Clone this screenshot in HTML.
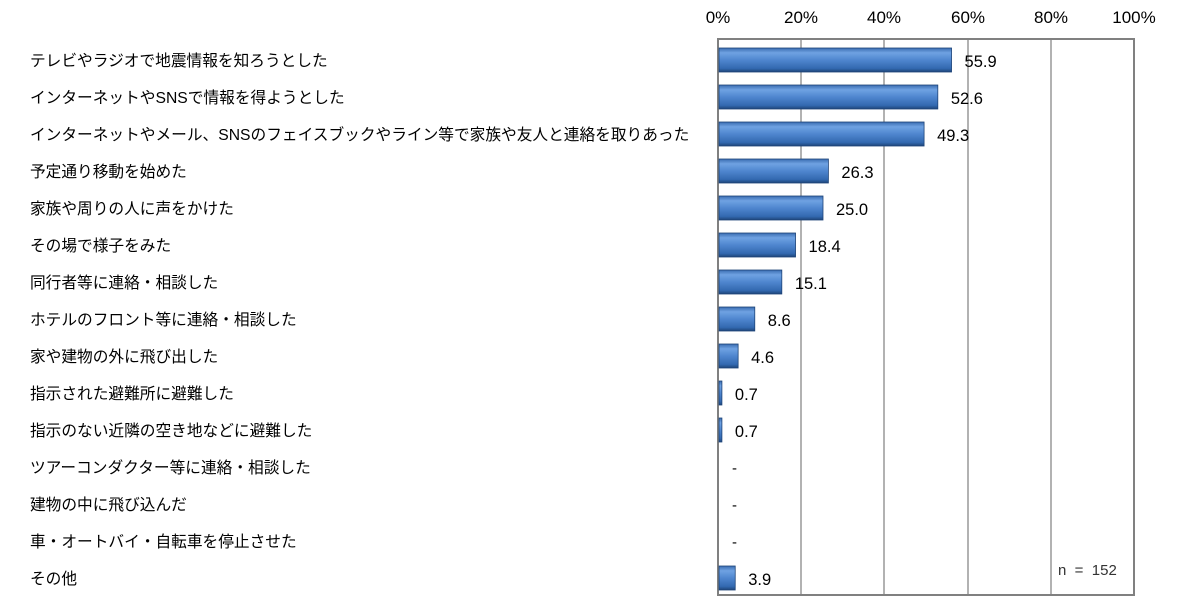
<!DOCTYPE html>
<html><head><meta charset="utf-8"><style>
body{margin:0;background:#fff;width:1200px;height:600px;overflow:hidden}
text{font-family:"Liberation Sans","Noto Sans CJK JP",sans-serif}
</style></head><body>
<svg width="1200" height="600" viewBox="0 0 1200 600" xmlns="http://www.w3.org/2000/svg">
<defs>
<linearGradient id="g" x1="0" y1="0" x2="0" y2="1">
<stop offset="0" stop-color="#3a6cb0"/>
<stop offset="0.2" stop-color="#6fa2e2"/>
<stop offset="0.5" stop-color="#4f86cf"/>
<stop offset="0.85" stop-color="#3369b0"/>
<stop offset="1" stop-color="#1e4478"/>
</linearGradient>
</defs>
<g font-size="17" fill="#000" text-anchor="middle">
<text x="718" y="23">0%</text><text x="801" y="23">20%</text><text x="884" y="23">40%</text><text x="968" y="23">60%</text><text x="1051" y="23">80%</text><text x="1134" y="23">100%</text>
</g>
<g stroke="#999" stroke-width="1.5">
<line x1="801" y1="38" x2="801" y2="595"/><line x1="884" y1="38" x2="884" y2="595"/><line x1="968" y1="38" x2="968" y2="595"/><line x1="1051" y1="38" x2="1051" y2="595"/>
</g>
<rect x="718" y="39" width="416" height="556" fill="none" stroke="#808080" stroke-width="2"/>
<g id="bars"></g>
<text x="1058" y="575" font-size="15" fill="#333" xml:space="preserve">n  =  152</text>
</svg>
<script>
var d=[["テレビやラジオで地震情報を知ろうとした",55.9],["インターネットやSNSで情報を得ようとした",52.6],["インターネットやメール、SNSのフェイスブックやライン等で家族や友人と連絡を取りあった",49.3],["予定通り移動を始めた",26.3],["家族や周りの人に声をかけた",25.0],["その場で様子をみた",18.4],["同行者等に連絡・相談した",15.1],["ホテルのフロント等に連絡・相談した",8.6],["家や建物の外に飛び出した",4.6],["指示された避難所に避難した",0.7],["指示のない近隣の空き地などに避難した",0.7],["ツアーコンダクター等に連絡・相談した",null],["建物の中に飛び込んだ",null],["車・オートバイ・自転車を停止させた",null],["その他",3.9]];
var s="";
d.forEach(function(r,i){var cy=60+37*i;
s+='<text x="30" y="'+(cy+6)+'" font-size="15.7">'+r[0]+'</text>';
if(r[1]!==null){var w=r[1]*4.16;if(w<2)w=2.5;
s+='<rect x="719" y="'+(cy-12)+'" width="'+w+'" height="24" fill="url(#g)" stroke="#1e4478" stroke-width="0.8"/>';
s+='<text x="'+(719+w+13)+'" y="'+(cy+7)+'" font-size="16.5">'+r[1].toFixed(1)+'</text>';}
else s+='<text x="732" y="'+(cy+6)+'" font-size="15">-</text>';});
document.getElementById("bars").innerHTML=s;
</script>
</body></html>
